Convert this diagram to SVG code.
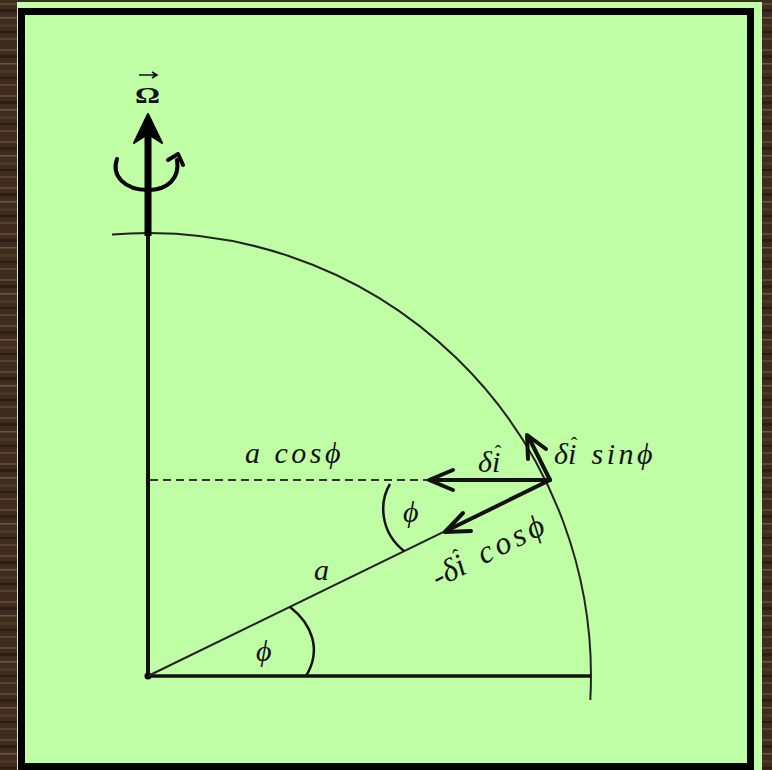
<svg xmlns="http://www.w3.org/2000/svg" width="772" height="770" viewBox="0 0 772 770">
<defs>
<pattern id="wood" x="0" y="0" width="772" height="46" patternUnits="userSpaceOnUse">
<rect width="772" height="46" fill="#3e2d1f"/>
<rect y="3" width="772" height="2" fill="#5a4633"/>
<rect y="9" width="772" height="3" fill="#2c1f14"/>
<rect y="17" width="772" height="1.5" fill="#6a5540"/>
<rect y="24" width="772" height="3" fill="#4a3726"/>
<rect y="31" width="772" height="2" fill="#2a1c12"/>
<rect y="38" width="772" height="2" fill="#574330"/>
</pattern>
</defs>
<style>
.lbl{font-family:"Liberation Serif","Times New Roman",serif;font-style:italic;fill:#111;font-size:30px}
.big{font-size:32px}
.hat{font-size:20px;font-style:normal}
.thin{stroke:#222;stroke-width:2;fill:none}
.vec{stroke:#111;stroke-width:4;fill:none;stroke-linecap:round;stroke-linejoin:round}
</style>
<rect width="772" height="770" fill="url(#wood)"/>
<rect x="17" y="2" width="745" height="768" fill="#c0fea6"/>
<rect x="21.5" y="11.5" width="729" height="755" fill="none" stroke="#000" stroke-width="7"/>

<g id="connectors">
<path class="thin" d="M112,234.5 A443,443 0 0 1 590.3,700"/>
<line x1="148" y1="676" x2="148" y2="233" stroke="#111" stroke-width="4"/>
<line x1="148" y1="236" x2="148" y2="128" stroke="#000" stroke-width="7"/>
<line x1="148" y1="676" x2="591" y2="676" stroke="#111" stroke-width="3.5"/>
<circle cx="148" cy="676" r="3.5" fill="#000"/>
<line class="thin" x1="148" y1="676" x2="550" y2="480"/>
<line x1="150" y1="480" x2="430" y2="480" stroke="#333" stroke-width="2" stroke-dasharray="8,5"/>
<path d="M290,607 C312,624 322,650 306,676" fill="none" stroke="#111" stroke-width="2.5"/>
<path d="M390,484 C379,502 380,532 404,551" fill="none" stroke="#111" stroke-width="2.5"/>
</g>

<g id="omega-arrow">
<path d="M148,114 L134,143 L148,134 L162,143 Z" fill="#000" stroke="#000" stroke-width="2" stroke-linejoin="round"/>
<path d="M117,159 C111,176 125,190 148,190 C168,190 180,178 177,160" fill="none" stroke="#000" stroke-width="4" stroke-linecap="round"/>
<path d="M168,160 L178,154 L183,165" fill="none" stroke="#000" stroke-width="4" stroke-linecap="round" stroke-linejoin="round"/>
<text x="135" y="103" font-family="Liberation Serif, serif" font-weight="bold" font-size="24" fill="#111" textLength="25" lengthAdjust="spacingAndGlyphs">Ω</text>
<path d="M139,75 L156,75 M152,72 L157,75 L152,78" fill="none" stroke="#111" stroke-width="1.6"/>
</g>

<g id="vec-di">
<line class="vec" x1="550" y1="480" x2="430" y2="480"/>
<path class="vec" d="M453,470 L429,480 L453,490"/>
<text class="lbl" x="478" y="472">δi<tspan class="hat" dx="-5.5" dy="-12">ˆ</tspan></text>
</g>

<g id="vec-sin">
<line class="vec" x1="550" y1="480" x2="528" y2="436"/>
<path class="vec" d="M528,459 L527,435 L546,449"/>
<text class="lbl" x="554" y="464">δi<tspan class="hat" dx="-5.5" dy="-12">ˆ</tspan><tspan dy="12" dx="3" letter-spacing="3.5"> sinϕ</tspan></text>
</g>

<g id="vec-cos">
<line class="vec" x1="550" y1="480" x2="446" y2="531"/>
<path class="vec" d="M463,513 L445,532 L471,531"/>
<text class="lbl big" transform="translate(438,588) rotate(-27)">-δi<tspan class="hat" dx="-6" dy="-13">ˆ</tspan><tspan dy="13" dx="4" letter-spacing="4"> cosϕ</tspan></text>
</g>

<g id="labels">
<text class="lbl" x="245" y="463" letter-spacing="3.5">a cosϕ</text>
<text class="lbl" x="314" y="580">a</text>
<text class="lbl" x="403" y="522">ϕ</text>
<text class="lbl" x="256" y="661">ϕ</text>
</g>
</svg>
